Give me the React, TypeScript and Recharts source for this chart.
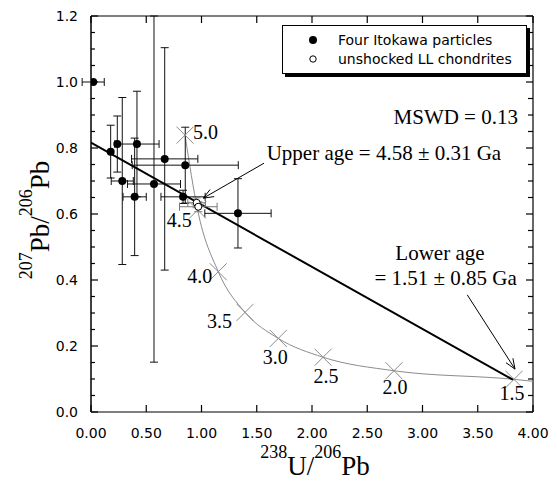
import React from 'react';
import { ComposedChart, XAxis, YAxis, Scatter, Line, ErrorBar, ReferenceDot, ReferenceLine, Legend } from 'recharts';

const SERIF = '"Liberation Serif", "Times New Roman", serif';
const SANS = '"DejaVu Sans", Verdana, sans-serif';

// plot frame (px) — used for the inward ticks on the top and right edges
const PLOT_TOP = 16;
const PLOT_RIGHT = 533;

// Four Itokawa particles (238U/206Pb, 207Pb/206Pb, 2-sigma errors)
const itoX = [0.02, 0.178, 0.238, 0.416, 0.283, 0.395, 0.57, 0.667, 0.853, 0.833, 1.33];
const itoY = [1.0, 0.789, 0.812, 0.812, 0.7, 0.652, 0.691, 0.767, 0.748, 0.652, 0.602];
const itoXErr = [0.1, 0, 0, 0.2, 0.1, 0.105, 0.24, 0.3, 0.48, 0.2, 0.3];
// [below, above]; the big one runs off the top of the frame
const itoYErr: (number[] | number)[] = [0, 0.08, 0.085, 0.16, 0.253, 0.178, [0.54, 0.509], 0.337, 0.115, 0.02, 0.105];

// unshocked LL chondrites
const llX = [0.956, 0.971];
const llY = [0.634, 0.622];
const llXErr = [0.08, 0.17];
const llYErr = [0.015, 0.015];

// concordia curve, ages in Ga
const concAge = ['5.0', '4.5', '4.0', '3.5', '3.0', '2.5', '2.0', '1.5', ''];
const concX = [0.851, 0.965, 1.152, 1.394, 1.695, 2.1, 2.742, 3.828, 4.0];
const concY = [0.839, 0.612, 0.425, 0.302, 0.223, 0.166, 0.125, 0.099, 0.093];

// discordia fit
const regX = [0, 3.822];
const regY = [0.816, 0.097];

const xTicks = [0, 0.5, 1, 1.5, 2, 2.5, 3, 3.5, 4];
const yTicks = [0, 0.05, 0.1, 0.15, 0.2, 0.25, 0.3, 0.35, 0.4, 0.45, 0.5, 0.55, 0.6, 0.65, 0.7, 0.75, 0.8, 0.85, 0.9, 0.95, 1.0, 1.05, 1.1, 1.15, 1.2];

const noteText = ['MSWD = 0.13', 'Upper age = 4.58 ± 0.31 Ga', 'Lower age', '= 1.51 ± 0.85 Ga'];
const noteX = [3.864, 1.59, 3.158, 3.853];
const noteY = [0.894, 0.784, 0.483, 0.406];
const noteAnchor = ['end', 'start', 'middle', 'end'];

// arrows: [from, to]
const arrows = [
  [{ x: 1.566, y: 0.754 }, { x: 1.016, y: 0.648 }],
  [{ x: 3.405, y: 0.355 }, { x: 3.837, y: 0.13 }],
];

const itokawa = itoX.map((x, i) => ({ x, y: itoY[i], ex: itoXErr[i] || undefined, ey: itoYErr[i] || undefined }));
const chondrites = llX.map((x, i) => ({ x, y: llY[i], ex: llXErr[i], ey: llYErr[i] }));
const concordia = concX.map((x, i) => ({ x, y: concY[i], age: concAge[i] }));
const concordiaMarks = concordia.filter((d) => d.age !== '');
const regression = regX.map((x, i) => ({ x, y: regY[i] }));

// label placement around each concordia cross
const concLabel: Record<string, { dx: number; dy: number; anchor: string }> = {
  '5.0': { dx: 8, dy: -3, anchor: 'start' },
  '4.5': { dx: -6, dy: 10, anchor: 'end' },
  '4.0': { dx: -6, dy: 4, anchor: 'end' },
  '3.5': { dx: -13, dy: 9, anchor: 'end' },
  '3.0': { dx: -3, dy: 19, anchor: 'middle' },
  '2.5': { dx: 3, dy: 19, anchor: 'middle' },
  '2.0': { dx: 1, dy: 16, anchor: 'middle' },
  '1.5': { dx: -2, dy: 14, anchor: 'middle' },
};

const isMajor = (v: number) => Math.abs(v * 5 - Math.round(v * 5)) < 1e-6;

// left + mirrored right ticks, labels on majors only
const LeftTick = (props: any) => {
  const { x, y, payload } = props;
  const v = payload.value;
  const major = isMajor(v);
  return (
    <g>
      <line x1={x} x2={x + (major ? 7 : 4)} y1={y} y2={y} stroke="#000" strokeWidth={1.2} />
      <line x1={PLOT_RIGHT} x2={PLOT_RIGHT - (major ? 7 : 5)} y1={y} y2={y} stroke="#000" strokeWidth={1.2} />
      {major && (
        <text x={x - 13} y={y} textAnchor="end" dominantBaseline="central" fontFamily={SANS} fontSize={14} fill="#000">
          {v.toFixed(1)}
        </text>
      )}
    </g>
  );
};

// bottom ticks, mirrored on the top edge
const BottomTick = (props: any) => {
  const { x, y, payload } = props;
  return (
    <g>
      <line x1={x} x2={x} y1={y} y2={y - 7} stroke="#000" strokeWidth={1.2} />
      <line x1={x} x2={x} y1={PLOT_TOP} y2={PLOT_TOP + 7} stroke="#000" strokeWidth={1.2} />
      <text x={x} y={y + 21} textAnchor="middle" dominantBaseline="central" fontFamily={SANS} fontSize={14} fill="#000">
        {payload.value.toFixed(2)}
      </text>
    </g>
  );
};

const XTitle = (props: any) => {
  const vb = props.viewBox || {};
  const cx = (vb.x ?? 91) + (vb.width ?? 442) / 2 + 3;
  return (
    <text x={cx} y={475} textAnchor="middle" fontFamily={SERIF} fontSize={27} fill="#000">
      <tspan fontSize={18} dy={-17}>238</tspan>
      <tspan dy={17}>U/</tspan>
      <tspan fontSize={18} dy={-17}>206</tspan>
      <tspan dy={17}>Pb</tspan>
    </text>
  );
};

const YTitle = () => (
  <text x={49} y={220} transform="rotate(-90 49 220)" textAnchor="middle" fontFamily={SERIF} fontSize={27} fill="#000">
    <tspan fontSize={18} dy={-17}>207</tspan>
    <tspan dy={17}>Pb/</tspan>
    <tspan fontSize={18} dy={-17}>206</tspan>
    <tspan dy={17}>Pb</tspan>
  </text>
);

const FilledDot = (p: any) => <circle cx={p.cx} cy={p.cy} r={4} fill="#000" />;
const OpenDot = (p: any) => <circle cx={p.cx} cy={p.cy} r={3.5} fill="#fff" stroke="#000" strokeWidth={1} />;

const ConcMark = (p: any) => {
  const { cx, cy, payload } = p;
  const off = concLabel[payload.age];
  const s = 8.5;
  return (
    <g>
      <line x1={cx - s} y1={cy - s} x2={cx + s} y2={cy + s} stroke="#8c8c8c" />
      <line x1={cx - s} y1={cy + s} x2={cx + s} y2={cy - s} stroke="#8c8c8c" />
      {off && (
        <text x={cx + off.dx} y={cy + off.dy} textAnchor={off.anchor} dominantBaseline="central" fontFamily={SERIF} fontSize={20} fill="#000">
          {payload.age}
        </text>
      )}
    </g>
  );
};

const Arrow = (p: any) => {
  const { x1, y1, x2, y2 } = p;
  const a = Math.atan2(y2 - y1, x2 - x1);
  const L = 11;
  const w = 0.38;
  const pts = `${x2 - L * Math.cos(a - w)},${y2 - L * Math.sin(a - w)} ${x2},${y2} ${x2 - L * Math.cos(a + w)},${y2 - L * Math.sin(a + w)}`;
  return (
    <g>
      <line x1={x1} y1={y1} x2={x2} y2={y2} stroke="#000" strokeWidth={1} />
      <polyline points={pts} fill="none" stroke="#000" strokeWidth={1} />
    </g>
  );
};

const legendItems = [
  { name: 'Four Itokawa particles', filled: true },
  { name: 'unshocked LL chondrites', filled: false },
];

const LegendBox = () => (
  <div
    style={{
      border: '1px solid #000',
      background: '#fff',
      boxShadow: '3px 3px 0 #000',
      padding: '5px 0',
      fontFamily: SANS,
      fontSize: 14,
      lineHeight: '18.5px',
      color: '#000',
      boxSizing: 'border-box',
      width: 245,
    }}
  >
    {legendItems.map((it) => (
      <div key={it.name} style={{ display: 'flex', alignItems: 'center', paddingLeft: 24, whiteSpace: 'nowrap' }}>
        <svg width={12} height={12} style={{ marginRight: 19 }}>
          {it.filled ? (
            <circle cx={6} cy={6} r={4} fill="#000" />
          ) : (
            <circle cx={6} cy={6} r={3.2} fill="#fff" stroke="#000" />
          )}
        </svg>
        <span>{it.name}</span>
      </div>
    ))}
  </div>
);

export default function App() {
  return (
    <div style={{ position: 'absolute', left: 0, top: 0, width: 557, height: 481, background: '#fff' }}>
      <ComposedChart width={557} height={481} margin={{ top: PLOT_TOP, right: 557 - PLOT_RIGHT, bottom: 0, left: 0 }}>
        <XAxis
          dataKey="x"
          type="number"
          domain={[0, 4]}
          ticks={xTicks}
          interval={0}
          allowDataOverflow
          height={69}
          tickSize={0}
          tickMargin={0}
          tickLine={false}
          axisLine={{ stroke: '#000', strokeWidth: 1.2 }}
          tick={<BottomTick />}
          label={(props: any) => <XTitle {...props} />}
        />
        <YAxis
          type="number"
          domain={[0, 1.2]}
          ticks={yTicks}
          interval={0}
          allowDataOverflow
          width={91}
          tickSize={0}
          tickMargin={0}
          tickLine={false}
          axisLine={{ stroke: '#000', strokeWidth: 1.5 }}
          tick={<LeftTick />}
          label={() => <YTitle />}
        />
        <Legend
          layout="vertical"
          align="center"
          verticalAlign="middle"
          content={<LegendBox />}
          wrapperStyle={{ top: 25, left: 282, width: 245 }}
        />

        {/* top and right frame lines */}
        <ReferenceLine y={1.2} stroke="#000" strokeWidth={1.2} ifOverflow="visible" />
        <ReferenceLine x={4} stroke="#000" strokeWidth={1.2} ifOverflow="visible" />

        <Line data={concordia} dataKey="y" type="monotone" stroke="#8c8c8c" strokeWidth={1} dot={false} activeDot={false} isAnimationActive={false} legendType="none" />
        <Scatter data={concordiaMarks} dataKey="y" shape={<ConcMark />} isAnimationActive={false} legendType="none" />

        <Scatter data={itokawa} dataKey="y" shape={<FilledDot />} isAnimationActive={false} name="Four Itokawa particles">
          <ErrorBar dataKey="ex" direction="x" width={4} stroke="#111" strokeWidth={1} isAnimationActive={false} />
          <ErrorBar dataKey="ey" direction="y" width={4} stroke="#111" strokeWidth={1} isAnimationActive={false} />
        </Scatter>
        <Line data={regression} dataKey="y" type="linear" stroke="#000" strokeWidth={2} dot={false} activeDot={false} isAnimationActive={false} legendType="none" />
        <Scatter data={chondrites} dataKey="y" shape={<OpenDot />} isAnimationActive={false} name="unshocked LL chondrites">
          <ErrorBar dataKey="ex" direction="x" width={4} stroke="#777" strokeWidth={1} isAnimationActive={false} />
          <ErrorBar dataKey="ey" direction="y" width={4} stroke="#777" strokeWidth={1} isAnimationActive={false} />
        </Scatter>

        {arrows.map((seg, i) => (
          <ReferenceLine key={`arrow-${i}`} segment={seg} ifOverflow="visible" shape={(p: any) => <Arrow {...p} />} />
        ))}
        {noteText.map((t, i) => (
          <ReferenceDot
            key={t}
            x={noteX[i]}
            y={noteY[i]}
            r={0}
            ifOverflow="visible"
            shape={(p: any) => (
              <text x={p.cx} y={p.cy} textAnchor={noteAnchor[i]} dominantBaseline="central" fontFamily={SERIF} fontSize={21} fill="#000">
                {t}
              </text>
            )}
          />
        ))}
      </ComposedChart>
    </div>
  );
}
